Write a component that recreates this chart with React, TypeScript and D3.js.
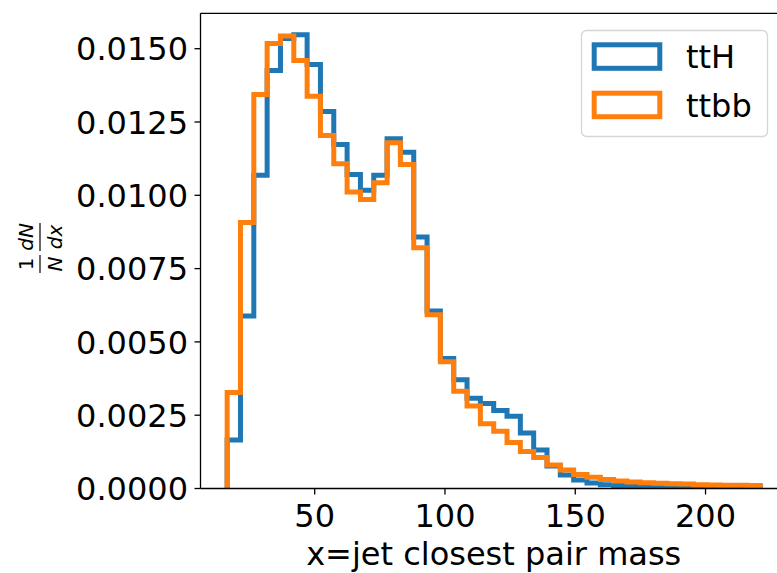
import React from "react";
import * as d3 from "d3";

// ---- data ----
const seriesNames = ["ttH", "ttbb"];
const binStart = 16.4;
const binEnd = 221.0;
const binCount = 40;
const ttH = [
  0.00165, 0.00588, 0.01068, 0.01426, 0.01535, 0.01548, 0.01446, 0.01286, 0.01173, 0.01071,
  0.01017, 0.01068, 0.01193, 0.01147, 0.00858, 0.00605, 0.00443, 0.00371, 0.00308, 0.0029,
  0.00266, 0.00246, 0.00189, 0.00131, 0.00077, 0.00046, 0.00029, 0.00019, 0.00013, 0.0001,
  0.00008, 0.00007, 0.00007, 0.00007, 0.00007, 0.00007, 0.00007, 0.00007, 0.00007, 0.00007,
];
const ttbb = [
  0.00327, 0.00907, 0.01344, 0.01518, 0.01543, 0.0146, 0.01338, 0.01204, 0.01108, 0.01011,
  0.00986, 0.01043, 0.01179, 0.01105, 0.00821, 0.00593, 0.00432, 0.00332, 0.00281, 0.00221,
  0.00195, 0.00157, 0.00126, 0.00106, 0.0008, 0.00063, 0.00048, 0.00038, 0.00031, 0.00026,
  0.00022, 0.0002, 0.00018, 0.00016, 0.00015, 0.00013, 0.00012, 0.00011, 0.00011, 0.0001,
];
const xTicks = [50, 100, 150, 200];
const yTicks = [0, 0.0025, 0.005, 0.0075, 0.01, 0.0125, 0.015];
const yTickLabels = ["0.0000", "0.0025", "0.0050", "0.0075", "0.0100", "0.0125", "0.0150"];
const colors = ["#1f77b4", "#ff7f0e"];
const xLabel = "x=jet closest pair mass";

const W = 777;
const H = 573;
const FONT = "DejaVu Sans, sans-serif";

export default function App() {
  const margin = (binEnd - binStart) * 0.05;
  const x = d3.scaleLinear().domain([binStart - margin, binEnd + margin]).range([200.5, 786.9]);
  const y = d3.scaleLinear().domain([0, 0.015]).range([488.5, 48.7]);
  const top = 13.3;
  const bottom = y(0);
  const left = x(binStart - margin);
  const right = x(binEnd + margin);

  const edges = d3.range(binCount + 1).map((i) => binStart + ((binEnd - binStart) * i) / binCount);
  const stepPts = (vals: number[]) => {
    const pts: [number, number][] = [[edges[0], 0]];
    vals.forEach((v, i) => {
      pts.push([edges[i], v]);
      pts.push([edges[i + 1], v]);
    });
    pts.push([edges[binCount], 0]);
    return pts;
  };
  const line = d3
    .line<[number, number]>()
    .x((d) => x(d[0]))
    .y((d) => y(d[1]));

  const series = [ttH, ttbb];

  return (
    <svg
      width={W}
      height={H}
      style={{ position: "absolute", left: 0, top: 0, background: "#fff" }}
      fontFamily={FONT}
    >
      <rect x={0} y={0} width={W} height={H} fill="#fff" />
      {series.map((vals, i) => (
        <path
          key={i}
          d={line(stepPts(vals)) || ""}
          fill="none"
          stroke={colors[i]}
          strokeWidth={5}
          strokeLinejoin="miter"
          strokeLinecap="butt"
        />
      ))}
      {/* spines */}
      <line x1={left} x2={left} y1={top} y2={bottom} stroke="#000" strokeWidth={1.3} />
      <line x1={left} x2={right} y1={bottom} y2={bottom} stroke="#000" strokeWidth={1.3} />
      <line x1={left} x2={right} y1={top} y2={top} stroke="#000" strokeWidth={1.3} />
      <line x1={right} x2={right} y1={top} y2={bottom} stroke="#000" strokeWidth={1.3} />
      {/* x ticks */}
      {xTicks.map((t) => (
        <g key={t}>
          <line x1={x(t)} x2={x(t)} y1={bottom} y2={bottom + 6} stroke="#000" strokeWidth={1.3} />
          <text x={x(t)} y={527} fontSize={32} textAnchor="middle" fill="#000">
            {t}
          </text>
        </g>
      ))}
      {/* y ticks */}
      {yTicks.map((t, i) => (
        <g key={t}>
          <line x1={left - 6} x2={left} y1={y(t)} y2={y(t)} stroke="#000" strokeWidth={1.3} />
          <text x={188} y={y(t) + 11.6} fontSize={32} textAnchor="end" fill="#000">
            {yTickLabels[i]}
          </text>
        </g>
      ))}
      {/* x label */}
      <text x={(left + right) / 2} y={565} fontSize={32} textAnchor="middle" fill="#000">
        {xLabel}
      </text>
      {/* y label: 1/N dN/dx */}
      <g transform={`translate(40,${(top + bottom) / 2}) rotate(-90)`} fill="#000">
        <text x={-13} y={-7} fontSize={20} textAnchor="middle">1</text>
        <line x1={-22} x2={-4} y1={0} y2={0} stroke="#000" strokeWidth={1.2} />
        <text x={-13} y={22} fontSize={20} textAnchor="middle" fontStyle="italic">N</text>
        <text x={14} y={-7} fontSize={20} textAnchor="middle" fontStyle="italic">dN</text>
        <line x1={0} x2={28} y1={0} y2={0} stroke="#000" strokeWidth={1.2} />
        <text x={14} y={22} fontSize={20} textAnchor="middle" fontStyle="italic">dx</text>
      </g>
      {/* legend */}
      <rect
        x={581.5}
        y={30.5}
        width={186}
        height={106}
        rx={5}
        fill="#fff"
        fillOpacity={0.8}
        stroke="#d6d6d6"
        strokeWidth={1.3}
      />
      {seriesNames.map((name, i) => (
        <g key={name}>
          <rect
            x={594.2}
            y={44.8 + i * 48.4}
            width={65.6}
            height={23.5}
            fill="none"
            stroke={colors[i]}
            strokeWidth={5}
          />
          <text x={686} y={68 + i * 48.7} fontSize={32} fill="#000">
            {name}
          </text>
        </g>
      ))}
    </svg>
  );
}
